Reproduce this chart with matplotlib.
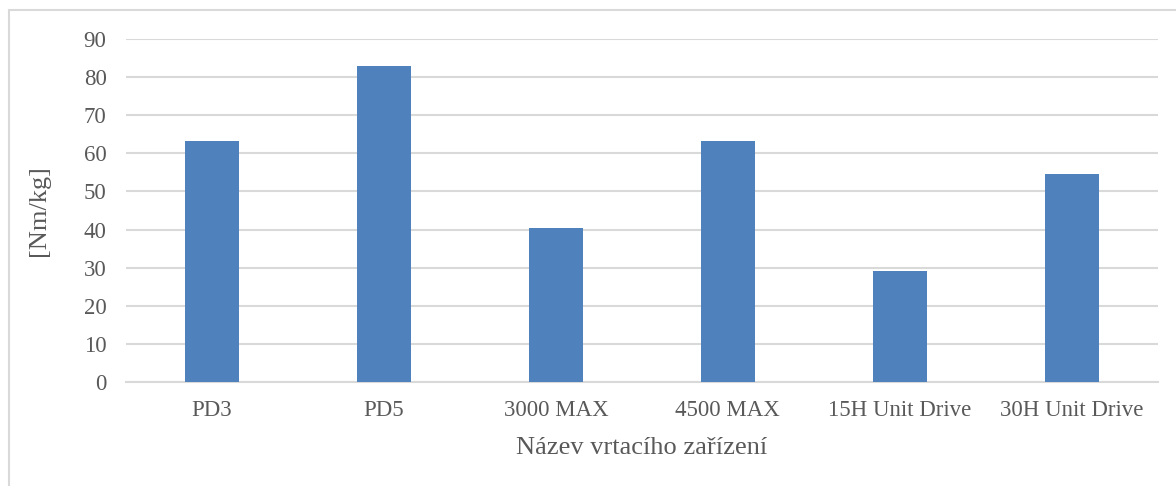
import matplotlib.pyplot as plt
from matplotlib.patches import Rectangle

# data
devices = ['PD3', 'PD5', '3000 MAX', '4500 MAX', '15H Unit Drive', '30H Unit Drive']
torque_per_kg = [63.3, 83.0, 40.4, 63.4, 29.1, 54.6]
yticks = [0, 10, 20, 30, 40, 50, 60, 70, 80, 90]

plt.rcParams['font.family'] = ['Liberation Serif', 'DejaVu Serif']
grey = '#595959'
gridc = '#D9D9D9'

fig = plt.figure(figsize=(11.76, 4.86), dpi=100)
ax = fig.add_axes([0.1071, 0.2146, 0.8774, 0.7045])

# outer chart frame (cut off at right and bottom as in the original)
fig.patches.append(Rectangle((9 / 1176, -0.1), 1.2, 1 - 10 / 486 + 0.1,
                             transform=fig.transFigure, fill=False,
                             edgecolor=gridc, linewidth=1.5))

x = range(len(devices))
ax.bar(x, torque_per_kg, width=0.315, color='#4F81BD', zorder=3)

ax.set_xlim(-0.5, len(devices) - 0.5)
ax.set_ylim(0, 90)
ax.set_yticks(yticks)
ax.set_xticks(list(x))
ax.set_xticklabels(devices)
ax.yaxis.grid(True, color=gridc, linewidth=1.5, zorder=0)
ax.set_axisbelow(True)
for s in ['top', 'right', 'left']:
    ax.spines[s].set_visible(False)
ax.spines['bottom'].set_color(gridc)
ax.spines['bottom'].set_linewidth(1.5)
ax.tick_params(axis='both', length=0, colors=grey, labelsize=16.5)
ax.tick_params(axis='y', pad=14)
ax.tick_params(axis='x', pad=13)

ax.set_ylabel('[Nm/kg]', color=grey, fontsize=19, labelpad=24)
ax.set_xlabel('Název vrtacího zařízení', color=grey, fontsize=19, labelpad=12)

fig.savefig('out.png', dpi=100)
